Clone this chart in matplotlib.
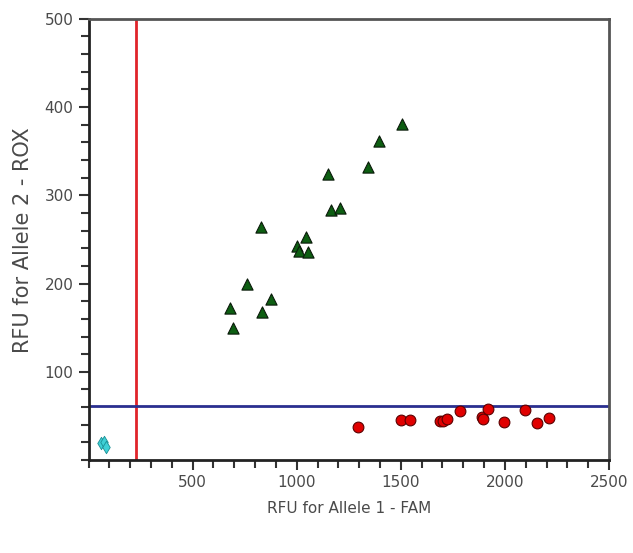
import matplotlib
matplotlib.use("Agg")
import matplotlib.pyplot as plt
from matplotlib.ticker import MultipleLocator, FixedLocator

# Allele 2 (ROX) cluster - green triangles
tri_x = [680, 694, 762, 834, 877, 829, 1000, 1012, 1045, 1052, 1165, 1209, 1151, 1343, 1396, 1507]
tri_y = [172, 150, 199, 168, 183, 264, 243, 237, 253, 236, 283, 286, 324, 332, 361, 381]

# Allele 1 (FAM) cluster - red circles
circ_x = [1293, 1500, 1545, 1686, 1705, 1724, 1785, 1889, 1894, 1921, 1997, 2096, 2154, 2210]
circ_y = [38, 45, 45, 44, 44, 46, 56, 49, 46, 58, 43, 57, 42, 48]

# No-template controls - cyan diamonds
ntc_x = [58, 72, 84]
ntc_y = [19, 20, 15]

# Threshold lines
x_threshold = 227
y_threshold = 61

x_labels = ["500", "1000", "1500", "2000", "2500"]
y_labels = ["100", "200", "300", "400", "500"]

txt_color = "#4a4a4a"

fig = plt.figure(figsize=(6.33, 5.53), dpi=100)
ax = fig.add_axes([0.140, 0.168, 0.822, 0.798])

ax.axvline(x_threshold, color="#e0242a", lw=2.0, zorder=2)
ax.axhline(y_threshold, color="#2a2f8f", lw=2.0, zorder=2)

ax.scatter(tri_x, tri_y, marker="^", s=65, c="#0d5e12", edgecolors="#0a1a0a", linewidths=0.8, zorder=3)
ax.scatter(circ_x, circ_y, marker="o", s=60, c="#e00000", edgecolors="#5a0000", linewidths=0.8, zorder=3)
ax.scatter(ntc_x, ntc_y, marker="d", s=40, c="#3fd0d6", edgecolors="#1a8f95", linewidths=0.6, zorder=3)

ax.set_xlim(0, 2500)
ax.set_ylim(0, 500)

ax.xaxis.set_major_locator(FixedLocator([500, 1000, 1500, 2000, 2500]))
ax.set_xticklabels(x_labels)
ax.xaxis.set_minor_locator(MultipleLocator(100))
ax.yaxis.set_major_locator(FixedLocator([100, 200, 300, 400, 500]))
ax.set_yticklabels(y_labels)
ax.yaxis.set_minor_locator(MultipleLocator(20))

ax.tick_params(axis="both", which="both", direction="out", color="#333333", width=1.5)
ax.tick_params(axis="both", which="major", length=7, labelsize=11, labelcolor=txt_color, pad=4)
ax.tick_params(axis="both", which="minor", length=6)

for side in ["left", "bottom"]:
    ax.spines[side].set_color("#222222")
    ax.spines[side].set_linewidth(2)
for side in ["top", "right"]:
    ax.spines[side].set_color("#555555")
    ax.spines[side].set_linewidth(2)

fig.text(0.551, 0.081, "RFU for Allele 1 - FAM", ha="center", va="center",
         fontsize=11, color=txt_color)
fig.text(0.036, 0.566, "RFU for Allele 2 - ROX", ha="center", va="center",
         rotation=90, fontsize=15, color=txt_color)

fig.savefig("out.png", dpi=100)
